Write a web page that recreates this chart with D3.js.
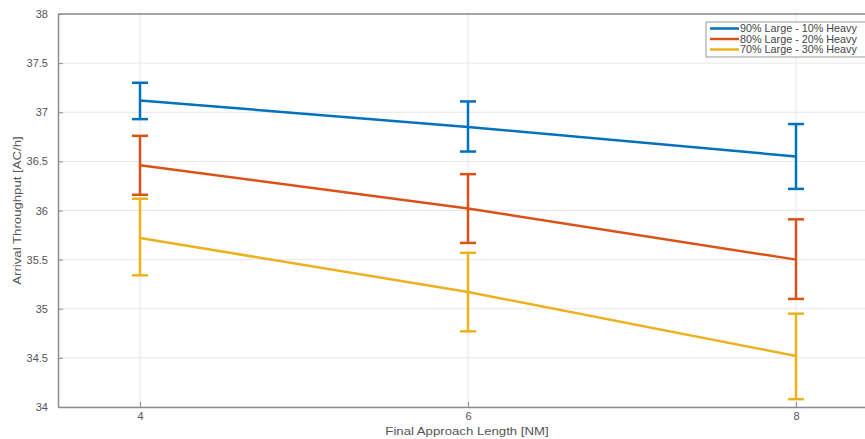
<!DOCTYPE html>
<html>
<head>
<meta charset="utf-8">
<script src="https://cdn.jsdelivr.net/npm/d3@7"></script>
<style>
  body { margin: 0; background: #fff; }
  svg { font-family: "Liberation Sans", Arial, sans-serif; }
</style>
</head>
<body>
<div id="chart"></div>
<script>
// Data
var lengths = [4, 6, 8];
var seriesNames = ["90% Large - 10% Heavy", "80% Large - 20% Heavy", "70% Large - 30% Heavy"];
var means = [
	[37.12, 36.85, 36.55],
	[36.46, 36.02, 35.50],
	[35.72, 35.17, 34.52]
];
var upper = [
	[37.30, 37.11, 36.88],
	[36.76, 36.37, 35.91],
	[36.12, 35.57, 34.95]
];
var lower = [
	[36.93, 36.60, 36.22],
	[36.16, 35.67, 35.10],
	[35.34, 34.77, 34.08]
];
var yTicks = [34, 34.5, 35, 35.5, 36, 36.5, 37, 37.5, 38];
var xTicks = [4, 6, 8];
var colors = ["#0072BD", "#D95319", "#EDB120"];

var width = 865,
	height = 439,
	margin = {left: 58, top: 14, right: -13, bottom: 32};

var x = d3.scaleLinear()
	.domain([3.5, 8.5])
	.range([margin.left, width - margin.right]);

var y = d3.scaleLinear()
	.domain([34, 38])
	.range([height - margin.bottom, margin.top]);

var svg = d3.select("#chart").append("svg")
	.attr("width", width)
	.attr("height", height);

// grid
svg.append("g")
	.selectAll("line.gy")
	.data(yTicks)
	.enter().append("line")
	.attr("x1", x(3.5)).attr("x2", x(8.5))
	.attr("y1", function(d) { return y(d); })
	.attr("y2", function(d) { return y(d); })
	.attr("stroke", "#e6e6e6");

svg.append("g")
	.selectAll("line.gx")
	.data(xTicks)
	.enter().append("line")
	.attr("y1", y(34)).attr("y2", y(38))
	.attr("x1", function(d) { return x(d); })
	.attr("x2", function(d) { return x(d); })
	.attr("stroke", "#e6e6e6");

// axes (MATLAB style, ticks inside)
var yAxis = d3.axisLeft(y)
	.tickValues(yTicks)
	.tickSizeInner(-5)
	.tickSizeOuter(0)
	.tickPadding(10)
	.tickFormat(function(d) { return String(d); });

var xAxis = d3.axisBottom(x)
	.tickValues(xTicks)
	.tickSizeInner(-5)
	.tickSizeOuter(0)
	.tickPadding(5)
	.tickFormat(function(d) { return String(d); });

var gy = svg.append("g")
	.attr("transform", "translate(" + margin.left + ",0)")
	.call(yAxis);

var gx = svg.append("g")
	.attr("transform", "translate(0," + y(34) + ")")
	.call(xAxis);

[gx, gy].forEach(function(g) {
	g.select(".domain").attr("stroke", "#8c8c8c").attr("stroke-width", 1.5);
	g.selectAll(".tick line").attr("stroke", "#8c8c8c");
	g.selectAll(".tick text").attr("fill", "#555").style("font-size", "11px");
});

// top border
svg.append("line")
	.attr("x1", x(3.5)).attr("x2", x(8.5))
	.attr("y1", y(38)).attr("y2", y(38))
	.attr("stroke", "#8c8c8c")
	.attr("stroke-width", 1.5);

// lines + error bars
var line = d3.line()
	.x(function(d) { return x(d.x); })
	.y(function(d) { return y(d.m); });

seriesNames.forEach(function(name, i) {
	var pts = lengths.map(function(l, j) {
		return {x: l, m: means[i][j], lo: lower[i][j], hi: upper[i][j]};
	});
	var g = svg.append("g").attr("stroke", colors[i]).attr("stroke-width", 2.5).attr("fill", "none");

	g.append("path").datum(pts).attr("d", line);

	var eb = g.selectAll("g.eb")
		.data(pts)
		.enter().append("g");
	eb.append("line")
		.attr("x1", function(d) { return x(d.x); })
		.attr("x2", function(d) { return x(d.x); })
		.attr("y1", function(d) { return y(d.lo); })
		.attr("y2", function(d) { return y(d.hi); });
	eb.append("line")
		.attr("x1", function(d) { return x(d.x) - 8; })
		.attr("x2", function(d) { return x(d.x) + 8; })
		.attr("y1", function(d) { return y(d.hi); })
		.attr("y2", function(d) { return y(d.hi); });
	eb.append("line")
		.attr("x1", function(d) { return x(d.x) - 8; })
		.attr("x2", function(d) { return x(d.x) + 8; })
		.attr("y1", function(d) { return y(d.lo); })
		.attr("y2", function(d) { return y(d.lo); });
});

// axis labels (the source image is stretched sideways, hence the scale)
svg.append("text")
	.attr("transform", "translate(" + (x(6) - 1) + ",435) scale(1.2,1)")
	.attr("text-anchor", "middle")
	.attr("fill", "#555")
	.style("font-size", "11px")
	.text("Final Approach Length [NM]");

svg.append("text")
	.attr("transform", "translate(21," + y(36) + ") rotate(-90) scale(1.2,1)")
	.attr("text-anchor", "middle")
	.attr("fill", "#555")
	.style("font-size", "11px")
	.text("Arrival Throughput [AC/h]");

// legend
var leg = svg.append("g").attr("transform", "translate(706,22)");
leg.append("rect")
	.attr("width", 175).attr("height", 35)
	.attr("fill", "#fff")
	.attr("stroke", "#999");
seriesNames.forEach(function(name, i) {
	var yy = 6.5 + i * 10.5;
	leg.append("line")
		.attr("x1", 4).attr("x2", 33)
		.attr("y1", yy).attr("y2", yy)
		.attr("stroke", colors[i])
		.attr("stroke-width", 2.5);
	leg.append("text")
		.attr("transform", "translate(34," + (yy + 3.5) + ") scale(1.08,1)")
		.attr("fill", "#444")
		.style("font-size", "10px")
		.text(name);
});
</script>
</body>
</html>
